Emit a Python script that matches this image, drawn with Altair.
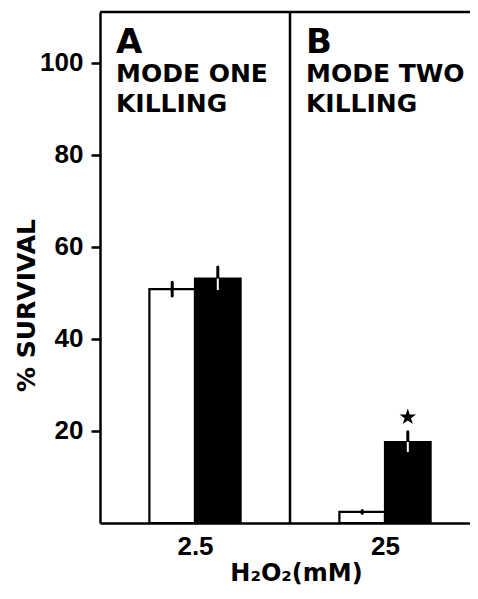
import altair as alt
import pandas as pd

# ---- data ----
panels = ["A", "B"]
panel_line1 = ["MODE ONE", "MODE TWO"]
panel_line2 = ["KILLING", "KILLING"]
concentrations = ["2.5", "25"]
treatments = ["control", "treated"]
survival_control = [50.8, 2.4]
survival_treated = [53.1, 17.6]
err_control = [1.5, 0.3]
err_treated = [2.5, 2.2]
star_values = [None, 23.0]

YMAX = 111
XMAX = 370 / 190
HALF = 0.24

bar_rows, err_black, err_white, star_rows, label_rows = [], [], [], [], []
for i, p in enumerate(panels):
    c = i + 0.5
    bar_rows.append({"panel": p, "treatment": "control", "x0": c - HALF, "x1": c,
                     "value": survival_control[i]})
    bar_rows.append({"panel": p, "treatment": "treated", "x0": c, "x1": c + HALF,
                     "value": survival_treated[i]})
    err_black.append({"x": c - HALF / 2, "lo": survival_control[i] - err_control[i],
                      "hi": survival_control[i] + err_control[i]})
    err_black.append({"x": c + HALF / 2, "lo": survival_treated[i],
                      "hi": survival_treated[i] + err_treated[i]})
    err_white.append({"x": c + HALF / 2, "lo": survival_treated[i] - err_treated[i],
                      "hi": survival_treated[i]})
    if star_values[i] is not None:
        star_rows.append({"x": c + HALF / 2, "v": star_values[i]})
    label_rows.append({"x": i, "letter": p, "l1": panel_line1[i], "l2": panel_line2[i]})

bars = pd.DataFrame(bar_rows)
eb = pd.DataFrame(err_black)
ew = pd.DataFrame(err_white)
stars = pd.DataFrame(star_rows)
labels = pd.DataFrame(label_rows)

label_expr = " : ".join(
    [f"datum.value < {i + 1} ? '{t}'" for i, t in enumerate(concentrations[:-1])]
    + [f"'{concentrations[-1]}'"]
)

xscale = alt.Scale(domain=[0, XMAX], nice=False, zero=False)
yscale = alt.Scale(domain=[0, YMAX], nice=False)

x_axis = alt.Axis(
    values=[i + 0.5 for i in range(len(panels))], labelExpr=label_expr,
    ticks=False, grid=False, domainWidth=2.5, domainColor="black",
    labelFont="Liberation Sans", labelFontWeight="bold", labelFontSize=26,
    labelColor="black", labelPadding=10,
    title="H₂O₂(mM)", titleFont="DejaVu Sans", titleFontWeight="bold",
    titleFontSize=24, titleColor="black", titleX=196, titleY=57,
    titleAlign="center", titleBaseline="alphabetic",
)
y_axis = alt.Axis(
    values=[20, 40, 60, 80, 100], grid=False, tickSize=9, tickWidth=2.5,
    tickColor="black", domainWidth=2.5, domainColor="black",
    labelFont="Liberation Sans", labelFontWeight="bold", labelFontSize=26,
    labelColor="black", labelPadding=8,
    title="% SURVIVAL", titleFont="DejaVu Sans", titleFontWeight="bold",
    titleFontSize=25, titleColor="black", titleAngle=270, titleX=-74, titleY=293,
    titleAlign="center", titleBaseline="middle",
)

X = lambda f: alt.X(f, type="quantitative", scale=xscale, axis=x_axis)
Y = lambda f: alt.Y(f, type="quantitative", scale=yscale, axis=y_axis)

bar_layer = alt.Chart(bars).mark_rect(stroke="black", strokeWidth=2.2).encode(
    x=X("x0"), x2="x1", y=Y("value"), y2=alt.datum(0),
    fill=alt.Fill("treatment:N", scale=alt.Scale(domain=treatments, range=["white", "black"]),
                  legend=None),
)
err_b = alt.Chart(eb).mark_rule(color="black", strokeWidth=3, strokeCap="round").encode(
    x=X("x"), y=Y("lo"), y2="hi")
err_w = alt.Chart(ew).mark_rule(color="white", strokeWidth=2).encode(
    x=X("x"), y=Y("lo"), y2="hi")
star_path = ("M0,-1L0.2245,-0.309L0.951,-0.309L0.363,0.118L0.588,0.809L0,0.382"
             "L-0.588,0.809L-0.363,0.118L-0.951,-0.309L-0.2245,-0.309Z")
star_layer = alt.Chart(stars).mark_point(shape=star_path, filled=True, color="black",
                                         size=300, opacity=1).encode(x=X("x"), y=Y("v"))
divider = alt.Chart(labels).transform_filter("datum.x > 0").mark_rule(
    color="black", strokeWidth=2.5).encode(x=X("x"), y=alt.datum(0), y2=alt.datum(YMAX))
top_rule = alt.Chart(labels).transform_filter("datum.x == 0").mark_rule(
    color="black", strokeWidth=2.5).encode(
    x=alt.datum(0, scale=xscale), x2=alt.datum(XMAX), y=alt.datum(YMAX))

txt = dict(font="DejaVu Sans", fontWeight="bold", color="black", align="left",
           baseline="alphabetic", dx=16)
letter = alt.Chart(labels).mark_text(fontSize=34, **txt).encode(
    x=X("x"), y=alt.value(41), text="letter:N")
line1 = alt.Chart(labels).mark_text(fontSize=25, **txt).encode(
    x=X("x"), y=alt.value(70), text="l1:N")
line2 = alt.Chart(labels).mark_text(fontSize=25, **txt).encode(
    x=X("x"), y=alt.value(100), text="l2:N")

chart = alt.layer(bar_layer, err_b, err_w, star_layer, divider, top_rule,
                  letter, line1, line2).properties(
    width=370, height=511,
    autosize=alt.AutoSizeParams(type="none"),
    padding={"left": 92, "top": 4, "right": 0, "bottom": 66},
    background="white",
).configure_view(stroke=None)

chart.save("out.html", embed_options={"renderer": "svg", "actions": False})
